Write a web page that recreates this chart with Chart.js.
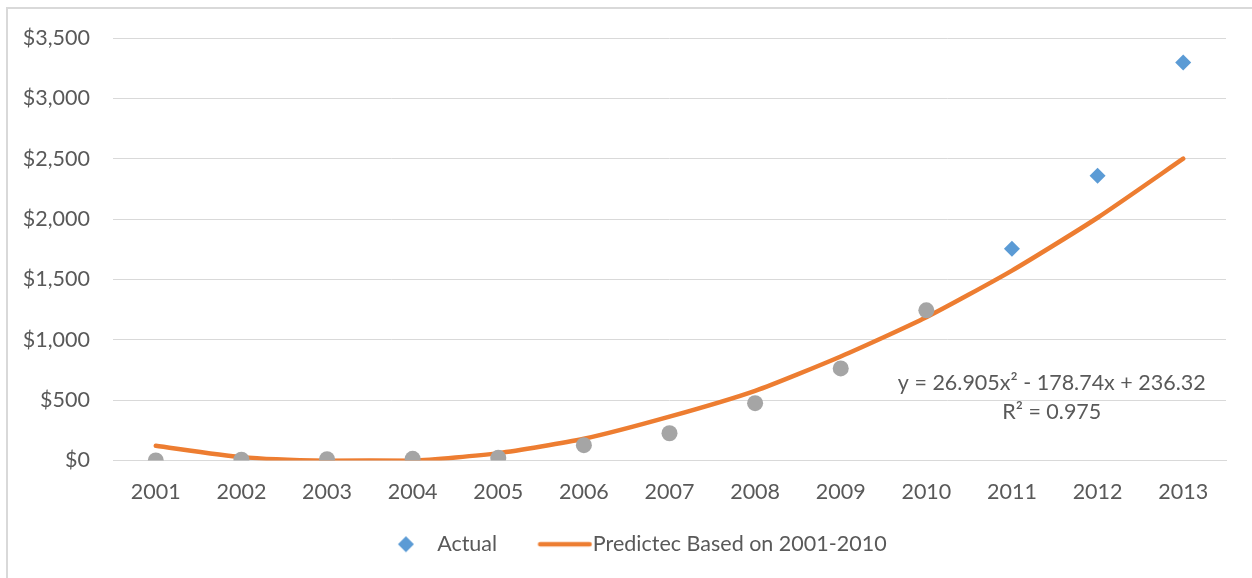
<!DOCTYPE html>
<html lang="en">
<head>
  <meta charset="UTF-8">
  <title>Actual vs predicted</title>
  <script src="https://cdn.jsdelivr.net/npm/chart.js"></script>
  <style>
    html, body { margin: 0; padding: 0; background: #fff; overflow: hidden; }
    #frame {
      position: absolute; left: 6px; top: 7px; width: 1300px; height: 700px;
      border-left: 2px solid #d9d9d9; border-top: 2px solid #d9d9d9;
    }
    #wrap { position: absolute; left: 0; top: 0; width: 1252px; height: 578px; }
  </style>
</head>
<body>
  <div id="frame"></div>
  <div id="wrap"><canvas id="chart"></canvas></div>

  <script>
    // data
    const years = ['2001', '2002', '2003', '2004', '2005', '2006', '2007',
                   '2008', '2009', '2010', '2011', '2012', '2013'];
    const fitActual = [0, 6, 11, 14, 22, 127, 226, 475, 763, 1244, null, null, null];
    const laterActual = [null, null, null, null, null, null, null, null, null, null, 1755, 2358, 3298];
    const predicted = [122, 28, -2, -2, 61, 180, 363, 577, 862, 1187, 1573, 2011, 2500];
    const yTicks = [0, 500, 1000, 1500, 2000, 2500, 3000, 3500];
    const equationText = ['y = 26.905x\u00b2 - 178.74x + 236.32', 'R\u00b2 = 0.975'];

    const textColor = '#595959';
    const fontSize = 21.5;
    Chart.defaults.font.family = 'Lato, "Open Sans", sans-serif';
    Chart.defaults.font.size = fontSize;
    Chart.defaults.color = textColor;

    // legend icons (image point styles so they sit where the original has them)
    function diamondIcon() {
      const c = document.createElement('canvas');
      c.width = 60; c.height = 18;
      const g = c.getContext('2d');
      g.fillStyle = '#5b9bd5';
      g.beginPath();
      g.moveTo(47 - 8, 9); g.lineTo(47, 1); g.lineTo(47 + 8, 9); g.lineTo(47, 17);
      g.closePath(); g.fill();
      return c;
    }
    function lineIcon() {
      const c = document.createElement('canvas');
      c.width = 100; c.height = 8;
      const g = c.getContext('2d');
      g.strokeStyle = '#ed7d31';
      g.lineWidth = 4.5;
      g.lineCap = 'round';
      g.beginPath(); g.moveTo(45.5, 4); g.lineTo(95, 4); g.stroke();
      return c;
    }

    const equationLabel = {
      id: 'equationLabel',
      afterLayout(chart) {
        // nudge the legend row a little to the right, like the original
        chart.legend.left += 12;
      },
      afterDatasetsDraw(chart) {
        const { ctx, scales: { x, y } } = chart;
        const cx = (x.getPixelForValue(10) + x.getPixelForValue(11)) / 2 - 3;
        ctx.save();
        ctx.font = fontSize + 'px ' + Chart.defaults.font.family;
        ctx.fillStyle = textColor;
        ctx.textAlign = 'center';
        ctx.textBaseline = 'middle';
        ctx.fillText(equationText[0], cx, y.getPixelForValue(641));
        ctx.fillText(equationText[1], cx, y.getPixelForValue(400));
        ctx.restore();
      }
    };

    new Chart(document.getElementById('chart'), {
      type: 'line',
      data: {
        labels: years,
        datasets: [
          {
            label: 'Actual',
            data: laterActual,
            showLine: false,
            pointStyle: 'rectRot',
            pointRadius: 8,
            pointBackgroundColor: '#5b9bd5',
            pointBorderWidth: 0,
            borderColor: '#5b9bd5',
            backgroundColor: '#5b9bd5'
          },
          {
            label: 'Actual 2001-2010',
            data: fitActual,
            showLine: false,
            pointStyle: 'circle',
            pointRadius: 8,
            pointBackgroundColor: '#a5a5a5',
            pointBorderWidth: 0,
            borderColor: '#a5a5a5',
            backgroundColor: '#a5a5a5'
          },
          {
            label: 'Predictec Based on 2001-2010',
            data: predicted,
            borderColor: '#ed7d31',
            borderWidth: 4.5,
            borderCapStyle: 'round',
            tension: 0.2,
            pointRadius: 0
          }
        ]
      },
      options: {
        responsive: true,
        maintainAspectRatio: false,
        animation: false,
        layout: { padding: { top: 38, right: 26, bottom: 13, left: 0 } },
        plugins: {
          tooltip: { enabled: false },
          legend: {
            position: 'bottom',
            labels: {
              usePointStyle: true,
              pointStyleWidth: 75,
              padding: 10,
              color: textColor,
              font: { size: fontSize },
              generateLabels: () => [
                { text: 'Actual', pointStyle: diamondIcon(), fontColor: textColor, lineWidth: 0, datasetIndex: 0 },
                { text: 'Predictec Based on 2001-2010', pointStyle: lineIcon(), fontColor: textColor, lineWidth: 0, datasetIndex: 2 }
              ]
            }
          }
        },
        scales: {
          x: {
            offset: true,
            grid: { display: false, drawTicks: false },
            border: { display: true, color: '#d9d9d9', width: 1 },
            ticks: { padding: 19, color: textColor, maxRotation: 0 },
            afterFit: (s) => { s.height = 63; }
          },
          y: {
            min: 0,
            max: 3500,
            afterBuildTicks: (s) => { s.ticks = yTicks.map(v => ({ value: v })); },
            grid: { color: '#d9d9d9', lineWidth: 1, drawTicks: false },
            border: { display: false },
            ticks: {
              padding: 23,
              color: textColor,
              callback: (v) => '$' + Number(v).toLocaleString('en-US')
            },
            afterFit: (s) => { s.width = 113; }
          }
        }
      },
      plugins: [equationLabel]
    });
  </script>
</body>
</html>
